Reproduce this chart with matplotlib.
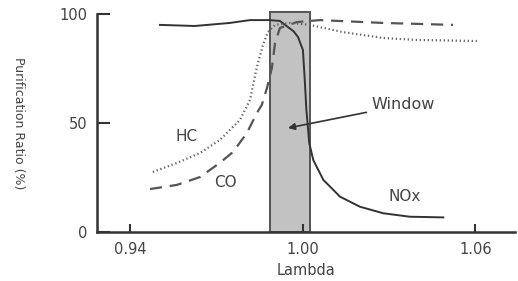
import matplotlib
matplotlib.use("Agg")
import matplotlib.pyplot as plt
from matplotlib.patches import Rectangle

# purification ratio (%) vs lambda
nox_lam = [0.9503, 0.9624, 0.9746, 0.9816, 0.9885, 0.9920, 0.9948, 0.9968, 0.9983,
           1.0000, 1.0007, 1.0012, 1.0016, 1.0022, 1.0036, 1.0071, 1.0129, 1.0198,
           1.0279, 1.0372, 1.0488]
nox_val = [95.0, 94.5, 95.9, 97.2, 97.2, 96.8, 94.0, 92.0, 89.4,
           83.5, 68.3, 56.0, 50.0, 40.8, 33.0, 23.9, 16.2, 11.6,
           8.6, 7.0, 6.7]

co_lam = [0.9468, 0.9562, 0.9642, 0.9711, 0.9757, 0.9805, 0.9840, 0.9857, 0.9875,
          0.9892, 0.9903, 0.9920, 0.9979, 1.0059, 1.0278, 1.0522]
co_val = [19.7, 21.6, 25.2, 31.7, 36.7, 45.4, 54.6, 58.3, 66.1,
          75.2, 86.7, 93.6, 96.3, 97.2, 95.9, 95.0]

hc_lam = [0.9478, 0.9562, 0.9642, 0.9711, 0.9781, 0.9816, 0.9840, 0.9861, 0.9878,
          0.9903, 0.9955, 1.0024, 1.0139, 1.0278, 1.0397, 1.0605]
hc_val = [27.5, 31.7, 36.2, 42.2, 51.4, 60.6, 75.7, 85.8, 91.7,
          95.0, 95.9, 95.0, 91.7, 89.0, 88.1, 87.6]

window = (0.9885, 1.0024)   # lambda range of the window
window_top = 101.1

x_ticks = [0.94, 1.00, 1.06]
y_ticks = [0, 50, 100]

ink = "#333333"
txt = "#444444"
plt.rcParams['font.family'] = ['DejaVu Sans']

fig = plt.figure(figsize=(5.18, 2.81), dpi=100)
ax = fig.add_axes([0.187, 0.1744, 0.807, 0.7758])

ax.add_patch(Rectangle((window[0], 0), window[1] - window[0], window_top,
                       facecolor="#c2c2c2", edgecolor="#555555", lw=1.4,
                       clip_on=False, zorder=1))

ax.plot(nox_lam, nox_val, color=ink, lw=1.4, zorder=3)
ax.plot(co_lam, co_val, color="#555555", lw=1.6, dashes=(5.5, 3.5), zorder=3)
ax.plot(hc_lam, hc_val, color="#666666", lw=1.6, ls=(0, (0.6, 1.2)), zorder=3)

ax.text(0.9597, 43.6, "HC", color=txt, fontsize=11, ha="center", va="center")
ax.text(0.9729, 22.5, "CO", color=txt, fontsize=11, ha="center", va="center")
ax.text(1.0355, 16.1, "NOx", color=txt, fontsize=11, ha="center", va="center")
ax.annotate("Window", xy=(0.9948, 47.7), xytext=(1.0240, 58.3),
            color=txt, fontsize=11.5, ha="left", va="center",
            arrowprops=dict(arrowstyle="-|>", color=ink, lw=1.2,
                            mutation_scale=10, shrinkA=2, shrinkB=0))

ax.set_xlim(0.92835, 1.0737)
ax.set_ylim(0, 100)
ax.set_xticks(x_ticks)
ax.set_xticklabels(["%.2f" % v for v in x_ticks])
ax.set_yticks(y_ticks)

for s in ("top", "right"):
    ax.spines[s].set_visible(False)
for s in ("left", "bottom"):
    ax.spines[s].set_linewidth(1.8)
    ax.spines[s].set_color(ink)

ax.tick_params(axis="y", direction="in", length=9, width=1.5, pad=6.5,
               labelsize=10.5, labelcolor=txt, color=ink)
ax.tick_params(axis="x", direction="in", length=6, width=1.5, pad=7.5,
               labelsize=10.5, labelcolor=txt, color=ink)

ax.set_xlabel("Lambda", fontsize=10.5, color=txt, labelpad=4)
ax.set_ylabel("Purification Ratio (%)", fontsize=9, color=txt,
              rotation=270, va="center")
ax.yaxis.set_label_coords(-0.187, 0.5)

fig.savefig("out.png", dpi=100, facecolor="white")
